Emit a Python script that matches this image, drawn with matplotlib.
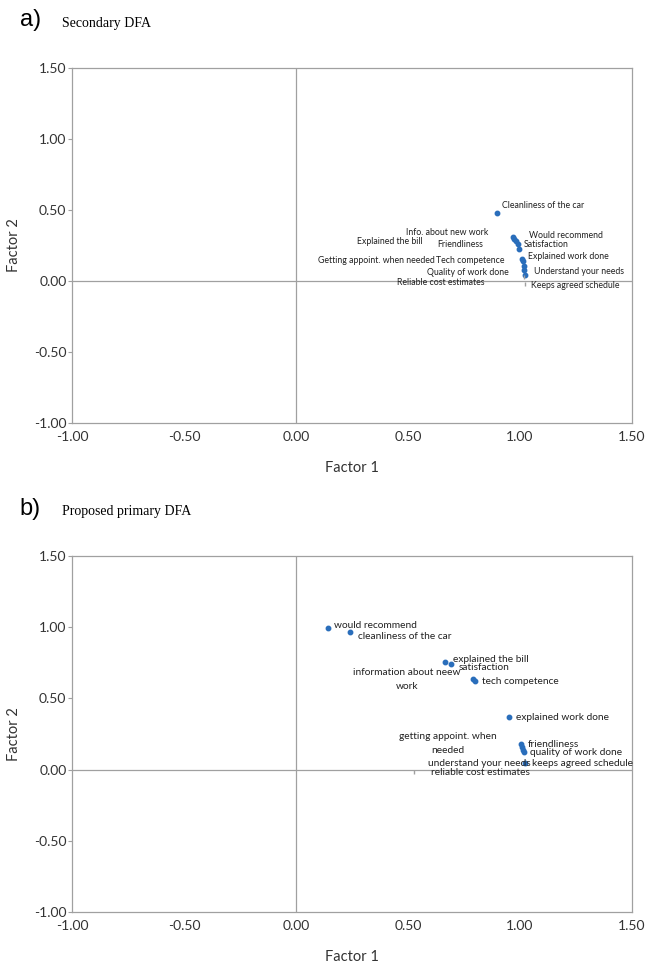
import matplotlib
matplotlib.use("Agg")
import matplotlib.pyplot as plt

plt.rcParams["font.family"] = ["Lato", "DejaVu Sans"]

# a) Secondary DFA
names_a = [
    "Cleanliness of the car", "Would recommend", "Info. about new work",
    "Satisfaction", "Explained the bill", "Friendliness",
    "Explained work done", "Getting appoint. when needed", "Tech competence",
    "Understand your needs", "Quality of work done", "Reliable cost estimates",
    "Keeps agreed schedule",
]
f1_a = [0.897, 0.967, 0.975, 0.982, 0.990, 0.997, 1.010, 1.015, 1.018,
        1.019, 1.021, 1.020, 1.022]
f2_a = [0.479, 0.308, 0.296, 0.284, 0.258, 0.223, 0.153, 0.141, 0.106,
        0.077, 0.040, 0.030, -0.020]
tiny_a = [False] * 11 + [True, True]

# b) Proposed primary DFA
names_b = [
    "would recommend", "cleanliness of the car", "explained the bill",
    "satisfaction", "information about neew\nwork", "tech competence",
    "explained work done", "friendliness", "quality of work done",
    "getting appoint. when\nneeded", "understand your needs",
    "keeps agreed schedule", "reliable cost estimates",
]
f1_b = [0.141, 0.241, 0.667, 0.692, 0.790, 0.798, 0.951, 1.003, 1.010,
        1.015, 1.019, 1.022, 0.528]
f2_b = [0.993, 0.965, 0.757, 0.739, 0.634, 0.624, 0.368, 0.182, 0.159,
        0.140, 0.126, 0.045, -0.020]
tiny_b = [False] * 12 + [True]

ticks = [-1.0, -0.5, 0.0, 0.5, 1.0, 1.5]

# label placement (data coords) and alignment
lab_a = [(0.921, 0.535, "left"), (1.042, 0.318, "left"), (0.491, 0.343, "left"),
         (1.015, 0.258, "left"), (0.271, 0.277, "left"), (0.631, 0.254, "left"),
         (1.037, 0.174, "left"), (0.100, 0.143, "left"), (0.625, 0.141, "left"),
         (1.062, 0.070, "left"), (0.586, 0.058, "left"), (0.450, -0.007, "left"),
         (1.048, -0.033, "left")]
lab_b = [(0.171, 1.009, "left"), (0.278, 0.932, "left"), (0.702, 0.776, "left"),
         (0.725, 0.715, "left"), (0.496, 0.632, "center"), (0.832, 0.617, "left"),
         (0.982, 0.364, "left"), (1.036, 0.175, "left"), (1.045, 0.119, "left"),
         (0.679, 0.182, "center"), (0.591, 0.042, "left"), (1.052, 0.042, "left"),
         (0.601, -0.019, "left")]

BLUE = "#2a6ebb"
GRAY = "#a0a0a0"
TXT = "#333333"


def draw(ax, xs, ys, tiny, names, labs, fs, lsp):
    ax.set_xlim(-1, 1.5)
    ax.set_ylim(-1, 1.5)
    for s in ax.spines.values():
        s.set_color(GRAY)
        s.set_linewidth(0.9)
    ax.axhline(0, color=GRAY, lw=0.9, zorder=1)
    ax.axvline(0, color=GRAY, lw=0.9, zorder=1)
    ax.set_xticks(ticks)
    ax.set_yticks(ticks)
    ax.set_xticklabels([f"{t:.2f}" for t in ticks])
    ax.set_yticklabels([f"{t:.2f}" for t in ticks])
    ax.tick_params(axis="x", length=0, pad=6, labelsize=10, labelcolor=TXT)
    ax.tick_params(axis="y", length=3, color=GRAY, pad=1, labelsize=10,
                   labelcolor=TXT)
    ax.set_xlabel("Factor 1", fontsize=10.5, color=TXT, labelpad=13)
    ax.set_ylabel("Factor 2", fontsize=10.5, color=TXT, labelpad=9)
    for x, y, t in zip(xs, ys, tiny):
        if t:
            ax.plot(x, y, marker="|", ms=3, color=GRAY, zorder=3)
        else:
            ax.plot(x, y, "o", ms=3.2, color=BLUE, mec=BLUE, zorder=3)
    for name, (lx, ly, ha) in zip(names, labs):
        ax.text(lx, ly, name, fontsize=fs, ha=ha, va="center",
                multialignment="center", linespacing=lsp, color="#202020",
                zorder=4)


fig = plt.figure(figsize=(6.62, 9.66), dpi=100)
ax_a = fig.add_axes([0.1088, 0.5621, 0.8459, 0.3675])
ax_b = fig.add_axes([0.1088, 0.0559, 0.8459, 0.3685])

draw(ax_a, f1_a, f2_a, tiny_a, names_a, lab_a, 6.3, 1.2)
draw(ax_b, f1_b, f2_b, tiny_b, names_b, lab_b, 7.3, 1.7)

fig.text(0.030, 0.979, "a)", fontsize=17, family="Liberation Sans",
         va="center")
fig.text(0.093, 0.976, "Secondary DFA", fontsize=10, family="Liberation Serif",
         va="center")
fig.text(0.030, 0.473, "b)", fontsize=17, family="Liberation Sans",
         va="center")
fig.text(0.093, 0.470, "Proposed primary DFA", fontsize=10,
         family="Liberation Serif", va="center")

fig.savefig("out.png", dpi=100)
